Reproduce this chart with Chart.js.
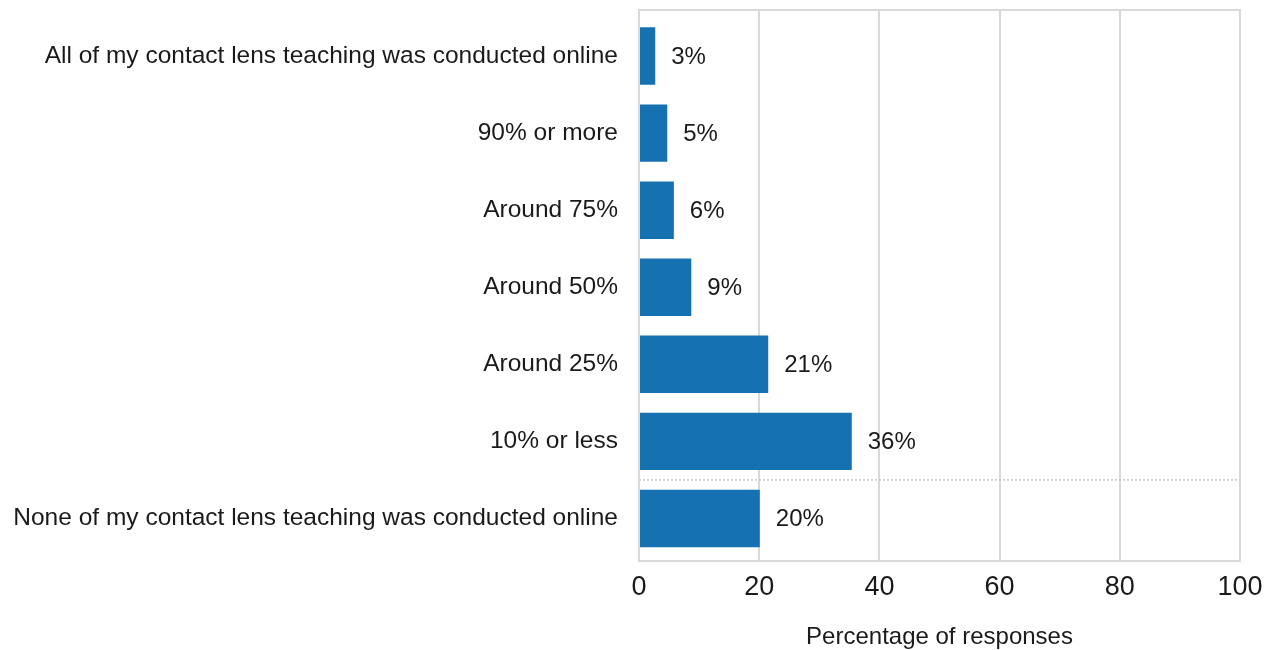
<!DOCTYPE html>
<html>
<head>
<meta charset="utf-8">
<script src="https://cdn.jsdelivr.net/npm/chart.js@4/dist/chart.umd.min.js"></script>
<style>
html,body{margin:0;padding:0;background:#fff;}
#wrap{width:1271px;height:650px;position:relative;}
</style>
</head>
<body>
<div id="wrap"><canvas id="c" width="1271" height="650"></canvas></div>
<script>
const categories = [
  "All of my contact lens teaching was conducted online",
  "90% or more",
  "Around 75%",
  "Around 50%",
  "Around 25%",
  "10% or less",
  "None of my contact lens teaching was conducted online"
];
const values = [2.7, 4.7, 5.8, 8.7, 21.5, 35.4, 20.1];
const valueLabels = ["3%", "5%", "6%", "9%", "21%", "36%", "20%"];
const xTicks = [0, 20, 40, 60, 80, 100];
const axisTitle = "Percentage of responses";

const FONT = "'Liberation Sans', Arial, sans-serif";
const GRID = "#d9d9d9";
const TOP_EXT = 7.5;
const BOT_EXT = 4;

const overlay = {
  id: 'overlay',
  beforeDatasetsDraw(chart) {
    const {ctx, chartArea: a, scales: {x, y}} = chart;
    ctx.save();
    ctx.strokeStyle = GRID;
    ctx.lineWidth = 2;
    x.ticks.forEach(t => {
      const px = Math.round(x.getPixelForValue(t.value));
      ctx.beginPath();
      ctx.moveTo(px, a.top - TOP_EXT);
      ctx.lineTo(px, a.top + 4);
      ctx.stroke();
    });
    const yMid = (y.getPixelForValue(5) + y.getPixelForValue(6)) / 2;
    ctx.strokeStyle = "#c8c8c8";
    ctx.lineWidth = 1.5;
    ctx.setLineDash([2, 2]);
    ctx.beginPath();
    ctx.moveTo(a.left, yMid);
    ctx.lineTo(a.right, yMid);
    ctx.stroke();
    ctx.setLineDash([]);
    ctx.strokeStyle = GRID;
    ctx.lineWidth = 2;
    ctx.strokeRect(a.left, a.top - TOP_EXT, a.right - a.left, a.bottom - a.top + TOP_EXT + BOT_EXT);
    ctx.restore();
  },
  afterDatasetsDraw(chart) {
    const {ctx} = chart;
    const meta = chart.getDatasetMeta(0);
    ctx.save();
    ctx.font = "24px " + FONT;
    ctx.fillStyle = "#1a1a1a";
    ctx.textAlign = "left";
    ctx.textBaseline = "middle";
    meta.data.forEach((bar, i) => {
      ctx.fillText(valueLabels[i], bar.x + 16, bar.y + 1);
    });
    ctx.restore();
  }
};

new Chart(document.getElementById('c'), {
  type: 'bar',
  data: {
    labels: categories,
    datasets: [{
      data: values,
      backgroundColor: "#1571b0",
      borderWidth: 0,
      barPercentage: 0.745,
      categoryPercentage: 1.0
    }]
  },
  options: {
    indexAxis: 'y',
    responsive: false,
    animation: false,
    layout: { padding: { top: 17.5, right: 31, left: 0, bottom: 0 } },
    plugins: { legend: { display: false }, tooltip: { enabled: false } },
    scales: {
      x: {
        min: 0, max: 100,
        afterBuildTicks(scale) { scale.ticks = xTicks.map(v => ({value: v})); },
        afterFit(scale) { scale.height = 93; scale.paddingLeft = 0; scale.paddingRight = 0; },
        grid: { color: GRID, lineWidth: 2, drawTicks: true, tickLength: BOT_EXT },
        border: { display: false },
        ticks: { font: { family: FONT, size: 27 }, color: "#1a1a1a", padding: 10, maxRotation: 0 },
        title: { display: true, text: axisTitle, font: { family: FONT, size: 24 }, color: "#1a1a1a", padding: { top: 12, bottom: -2 } }
      },
      y: {
        afterFit(scale) { scale.width = 639; scale.paddingTop = 0; scale.paddingBottom = 0; },
        grid: { display: false, drawTicks: false },
        border: { display: false },
        ticks: { font: { family: FONT, size: 24.5 }, color: "#1a1a1a", padding: 21, autoSkip: false }
      }
    }
  },
  plugins: [overlay]
});
</script>
</body>
</html>
